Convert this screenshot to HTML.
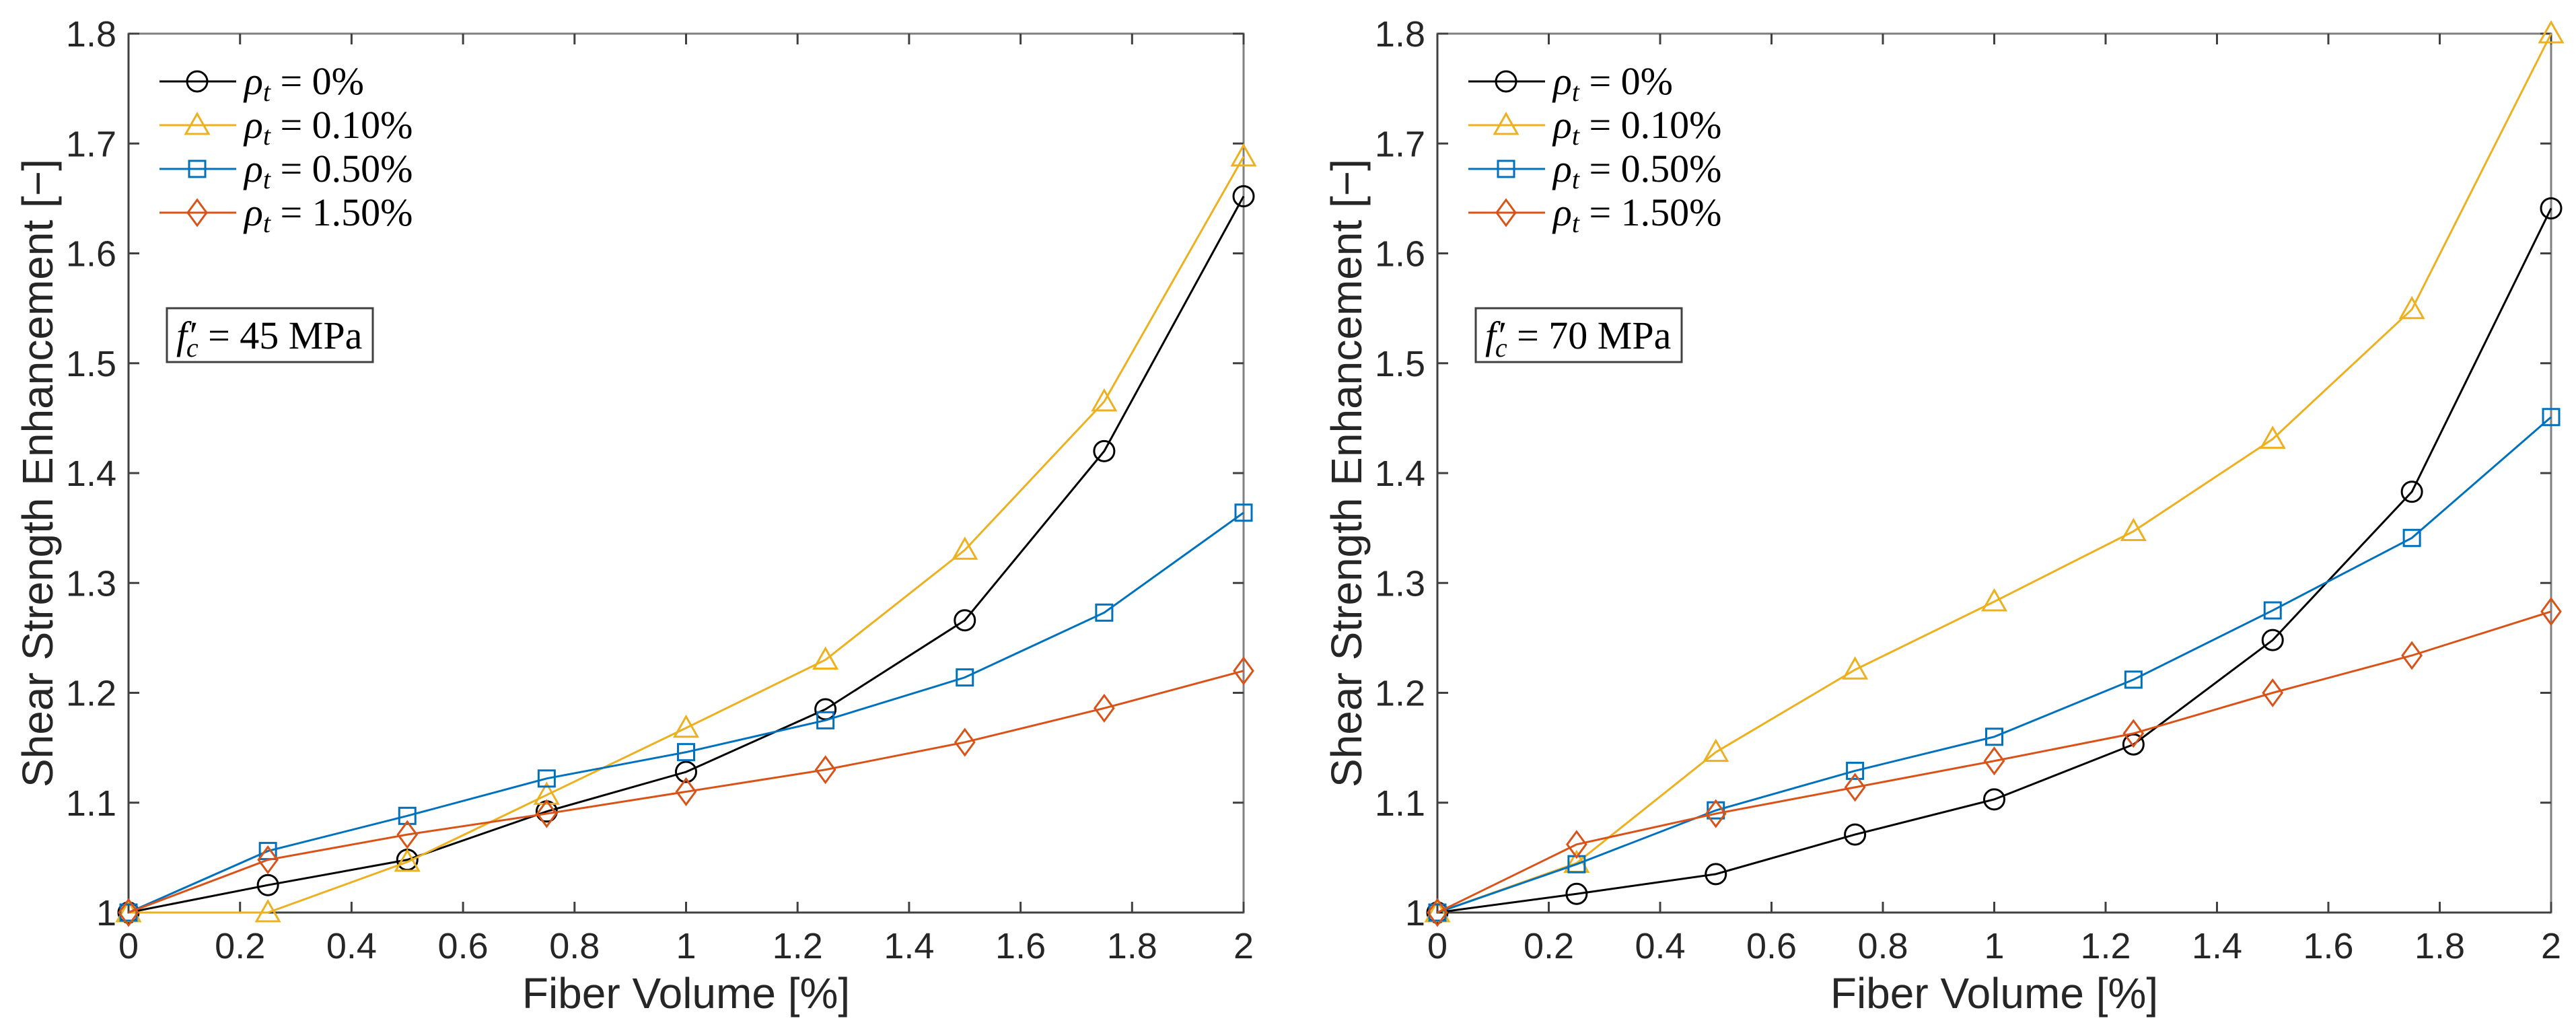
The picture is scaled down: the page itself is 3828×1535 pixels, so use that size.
<!DOCTYPE html>
<html><head><meta charset="utf-8">
<style>
html,body{margin:0;padding:0;background:#fff;}
svg{display:block;}
.tick{font-family:"Liberation Sans",Arial,sans-serif;font-size:54px;fill:#262626;}
.axlab{font-family:"Liberation Sans",Arial,sans-serif;font-size:64px;fill:#262626;}
.math{font-family:"Liberation Serif","DejaVu Serif",serif;font-size:58px;fill:#000;}
</style></head>
<body>
<svg id="chart" width="3828" height="1535" viewBox="0 0 3828 1535" xmlns="http://www.w3.org/2000/svg"></svg>
<script>
const xValues = [0, 0.25, 0.5, 0.75, 1, 1.25, 1.5, 1.75, 2];
const xTicks = [0, 0.2, 0.4, 0.6, 0.8, 1, 1.2, 1.4, 1.6, 1.8, 2];
const xTickLabels = ["0","0.2","0.4","0.6","0.8","1","1.2","1.4","1.6","1.8","2"];
const yTicks = [1, 1.1, 1.2, 1.3, 1.4, 1.5, 1.6, 1.7, 1.8];
const yTickLabels = ["1","1.1","1.2","1.3","1.4","1.5","1.6","1.7","1.8"];
const seriesNames = ["0%", "0.10%", "0.50%", "1.50%"];
const left0 = [1.0, 1.025, 1.048, 1.092, 1.128, 1.185, 1.266, 1.42, 1.652];
const left010 = [1.0, 1.0, 1.046, 1.107, 1.168, 1.23, 1.33, 1.465, 1.688];
const left050 = [1.0, 1.056, 1.088, 1.122, 1.146, 1.175, 1.214, 1.273, 1.364];
const left150 = [1.0, 1.048, 1.071, 1.09, 1.11, 1.13, 1.155, 1.186, 1.22];
const right0 = [1.0, 1.017, 1.035, 1.071, 1.103, 1.153, 1.248, 1.383, 1.641];
const right010 = [1.0, 1.045, 1.146, 1.221, 1.283, 1.347, 1.431, 1.549, 1.8];
const right050 = [1.0, 1.044, 1.093, 1.129, 1.16, 1.212, 1.275, 1.341, 1.451];
const right150 = [1.0, 1.062, 1.09, 1.114, 1.138, 1.163, 1.2, 1.234, 1.274];
const fcLabels = ["45", "70"];

const NS = "http://www.w3.org/2000/svg";
const svg = document.getElementById("chart");
const colors = ["#000000", "#EDB120", "#0072BD", "#D95319"];
const markers = ["circle", "triangle", "square", "diamond"];
function mk(tag, attrs, parent) {
  const e = document.createElementNS(NS, tag);
  for (const k in attrs) e.setAttribute(k, attrs[k]);
  (parent || svg).appendChild(e);
  return e;
}
function drawMarker(g, type, cx, cy, color) {
  let e;
  if (type === "circle") e = mk("circle", {cx: cx, cy: cy, r: 15}, g);
  else if (type === "triangle") e = mk("polygon", {points: `${cx},${cy-17} ${cx+17},${cy+13} ${cx-17},${cy+13}`}, g);
  else if (type === "square") e = mk("rect", {x: cx-12, y: cy-12, width: 24, height: 24}, g);
  else e = mk("polygon", {points: `${cx},${cy-19} ${cx+14},${cy} ${cx},${cy+19} ${cx-14},${cy}`}, g);
  e.setAttribute("fill", "none");
  e.setAttribute("stroke", color);
  e.setAttribute("stroke-width", "3");
  
  
}
function panel(idx, x0, x1, series, fc) {
  const top = 50, bot = 1356;
  const xs = v => x0 + (v - 0) / 2 * (x1 - x0);
  const ys = v => bot - (v - 1) / 0.8 * (bot - top);
  const g = mk("g", {});
  
  
  const frame = mk("rect", {x: x0, y: top, width: x1 - x0, height: bot - top, fill: "#fff", stroke: "#808080", "stroke-width": 3}, g);
  
  
  const ax = mk("path", {d: `M${x0},${top} L${x0},${bot} L${x1},${bot}`, fill: "none", stroke: "#404040", "stroke-width": 3}, g);
  
  
  xTicks.forEach((t, i) => {
    const x = xs(t);
    const tk = mk("path", {d: `M${x},${bot} L${x},${bot-16} M${x},${top} L${x},${top+16}`, stroke: "#404040", "stroke-width": 3}, g);
    
    
    const tl = mk("text", {x: x, y: bot + 68, "text-anchor": "middle", class: "tick"}, g);
    tl.textContent = xTickLabels[i];
    
    
  });
  yTicks.forEach((t, i) => {
    const y = ys(t);
    const tk = mk("path", {d: `M${x0},${y} L${x0+16},${y} M${x1},${y} L${x1-16},${y}`, stroke: "#404040", "stroke-width": 3}, g);
    
    
    const tl = mk("text", {x: x0 - 18, y: y + 19, "text-anchor": "end", class: "tick"}, g);
    tl.textContent = yTickLabels[i];
    
    
  });
  const xl = mk("text", {x: (x0 + x1) / 2, y: 1498, "text-anchor": "middle", class: "axlab"}, g);
  xl.textContent = "Fiber Volume [%]";
  
  
  const ylx = x0 - 113;
  const yl = mk("text", {x: ylx, y: 703, "text-anchor": "middle", class: "axlab", transform: `rotate(-90 ${ylx} 703)`}, g);
  yl.textContent = "Shear Strength Enhancement [\u2212]";
  
  
  series.forEach((vals, s) => {
    const sg = mk("g", {}, g);
    
    
    const pts = vals.map((v, i) => `${xs(xValues[i])},${ys(v)}`).join(" ");
    const pl = mk("polyline", {points: pts, fill: "none", stroke: colors[s], "stroke-width": 3}, sg);
    
    
    vals.forEach((v, i) => drawMarker(sg, markers[s], xs(xValues[i]), ys(v), colors[s]));
  });
  const off = x0 - 191;
  const lg = mk("g", {}, g);
  
  
  const ly = [121, 186, 251, 316];
  seriesNames.forEach((n, s) => {
    const eg = mk("g", {}, lg);
    
    
    const ln = mk("line", {x1: 237 + off, x2: 351 + off, y1: ly[s], y2: ly[s], stroke: colors[s], "stroke-width": 3}, eg);
    
    
    drawMarker(eg, markers[s], 293 + off, ly[s], colors[s]);
    const t = mk("text", {x: 363 + off, y: ly[s] + 19, class: "math"}, eg);
    
    
    const r = mk("tspan", {"font-style": "italic"}, t); r.textContent = "\u03C1";
    const sub = mk("tspan", {"font-style": "italic", "font-size": "40", dy: "10"}, t); sub.textContent = "t";
    const rest = mk("tspan", {dy: "-10"}, t); rest.textContent = " = " + n;
  });
  const bx = mk("rect", {x: 248 + off, y: 458, width: 306, height: 80, fill: "#fff", stroke: "#404040", "stroke-width": 3}, g);
  
  
  const at = mk("text", {x: 262 + off, y: 518, class: "math"}, g);
  
  
  const f = mk("tspan", {"font-style": "italic"}, at); f.textContent = "f\u2032";
  const c = mk("tspan", {"font-style": "italic", "font-size": "40", dy: "12", dx: "-14"}, at); c.textContent = "c";
  const rr = mk("tspan", {dy: "-12"}, at); rr.textContent = " = " + fc + " MPa";
}
panel(0, 191, 1848, [left0, left010, left050, left150], fcLabels[0]);
panel(1, 2136, 3791, [right0, right010, right050, right150], fcLabels[1]);
</script>
</body></html>
